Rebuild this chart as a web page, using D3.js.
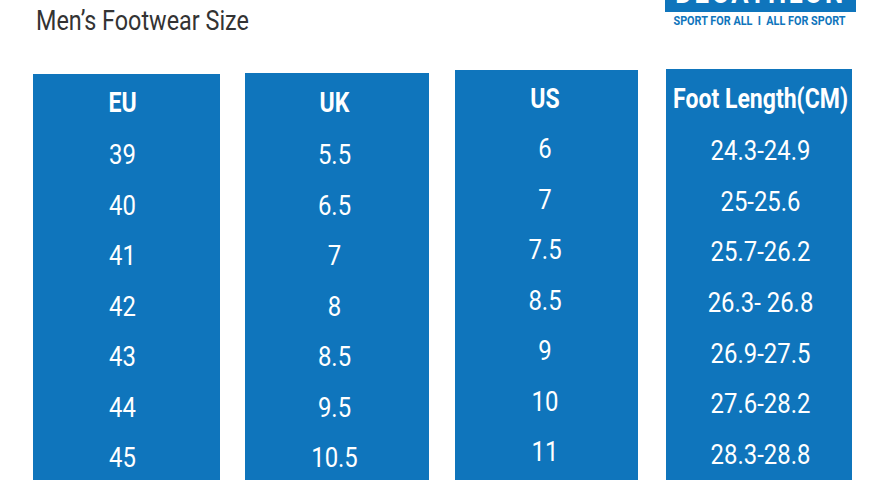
<!DOCTYPE html>
<html>
<head>
<meta charset="utf-8">
<script src="https://cdn.jsdelivr.net/npm/d3@7"></script>
<style>
  html, body { margin: 0; padding: 0; background: #fff; }
  svg { display: block; }
  text { font-family: Roboto, sans-serif; }
</style>
</head>
<body>
<div id="container"></div>
<script>
/* DATA */
const headers = ["EU", "UK", "US", "Foot Length(CM)"];
const euSizes = ["39", "40", "41", "42", "43", "44", "45"];
const ukSizes = ["5.5", "6.5", "7", "8", "8.5", "9.5", "10.5"];
const usSizes = ["6", "7", "7.5", "8.5", "9", "10", "11"];
const footLengths = ["24.3-24.9", "25-25.6", "25.7-26.2", "26.3- 26.8", "26.9-27.5", "27.6-28.2", "28.3-28.8"];
const columnValues = [euSizes, ukSizes, usSizes, footLengths];

/* CONSTANTS AND GLOBALS */
const width = 880;
const height = 480;
const blue = "#0f75bc";
const squeeze = 0.86; // the original face is condensed

// hand-measured panel boxes, the columns are slightly out of line with each other
const panels = [
  { x0: 33, x1: 220, top: 74, cx: 122.5, headY: 102.5, firstY: 154.5, lastY: 457.5 },
  { x0: 245, x1: 429, top: 73, cx: 334.5, headY: 102.5, firstY: 154.5, lastY: 457.5 },
  { x0: 455, x1: 638, top: 70, cx: 545, headY: 98.5, firstY: 148.5, lastY: 451.5 },
  { x0: 666, x1: 852, top: 69, cx: 760.5, headY: 98.5, firstY: 150.5, lastY: 454.5 }
];

const svg = d3.select("#container")
  .append("svg")
  .attr("width", width)
  .attr("height", height);

function squeezed(sel, x, y) {
  return sel.attr("transform", `translate(${x},${y}) scale(${squeeze},1)`);
}

/* TITLE */
squeezed(svg.append("text"), 36, 30)
  .text("Men’s Footwear Size")
  .attr("font-size", 27.2)
  .attr("fill", "#333333");

/* LOGO */
svg.append("rect")
  .attr("x", 665)
  .attr("y", 0)
  .attr("width", 191)
  .attr("height", 12)
  .attr("fill", blue);

squeezed(svg.append("text"), 760.5, 3)
  .text("DECATHLON")
  .attr("text-anchor", "middle")
  .attr("font-size", 30)
  .attr("font-weight", 700)
  .attr("letter-spacing", 3)
  .attr("fill", "#ffffff");

squeezed(svg.append("text"), 759.5, 25)
  .text("SPORT FOR ALL  I  ALL FOR SPORT")
  .attr("text-anchor", "middle")
  .attr("font-size", 12.6)
  .attr("font-weight", 700)
  .attr("xml:space", "preserve")
  .attr("fill", blue);

/* COLUMNS */
const column = svg.selectAll("g.column")
  .data(panels)
  .join("g")
  .attr("class", "column");

column.append("rect")
  .attr("x", d => d.x0)
  .attr("y", d => d.top)
  .attr("width", d => d.x1 - d.x0)
  .attr("height", d => height - d.top)
  .attr("fill", blue);

column.each(function(p, i) {
  const g = d3.select(this);
  const y = d3.scalePoint()
    .domain(columnValues[i])
    .range([p.firstY, p.lastY]);

  squeezed(g.append("text"), p.cx, p.headY)
    .text(headers[i])
    .attr("text-anchor", "middle")
    .attr("dominant-baseline", "central")
    .attr("font-size", 26.8)
    .attr("font-weight", 700)
    .attr("fill", "#ffffff");

  g.selectAll("text.value")
    .data(columnValues[i])
    .join("text")
    .attr("class", "value")
    .text(d => d)
    .attr("transform", d => `translate(${p.cx},${y(d)}) scale(${squeeze},1)`)
    .attr("text-anchor", "middle")
    .attr("dominant-baseline", "central")
    .attr("font-size", 27.8)
    .attr("fill", "#ffffff");
});
</script>
</body>
</html>
